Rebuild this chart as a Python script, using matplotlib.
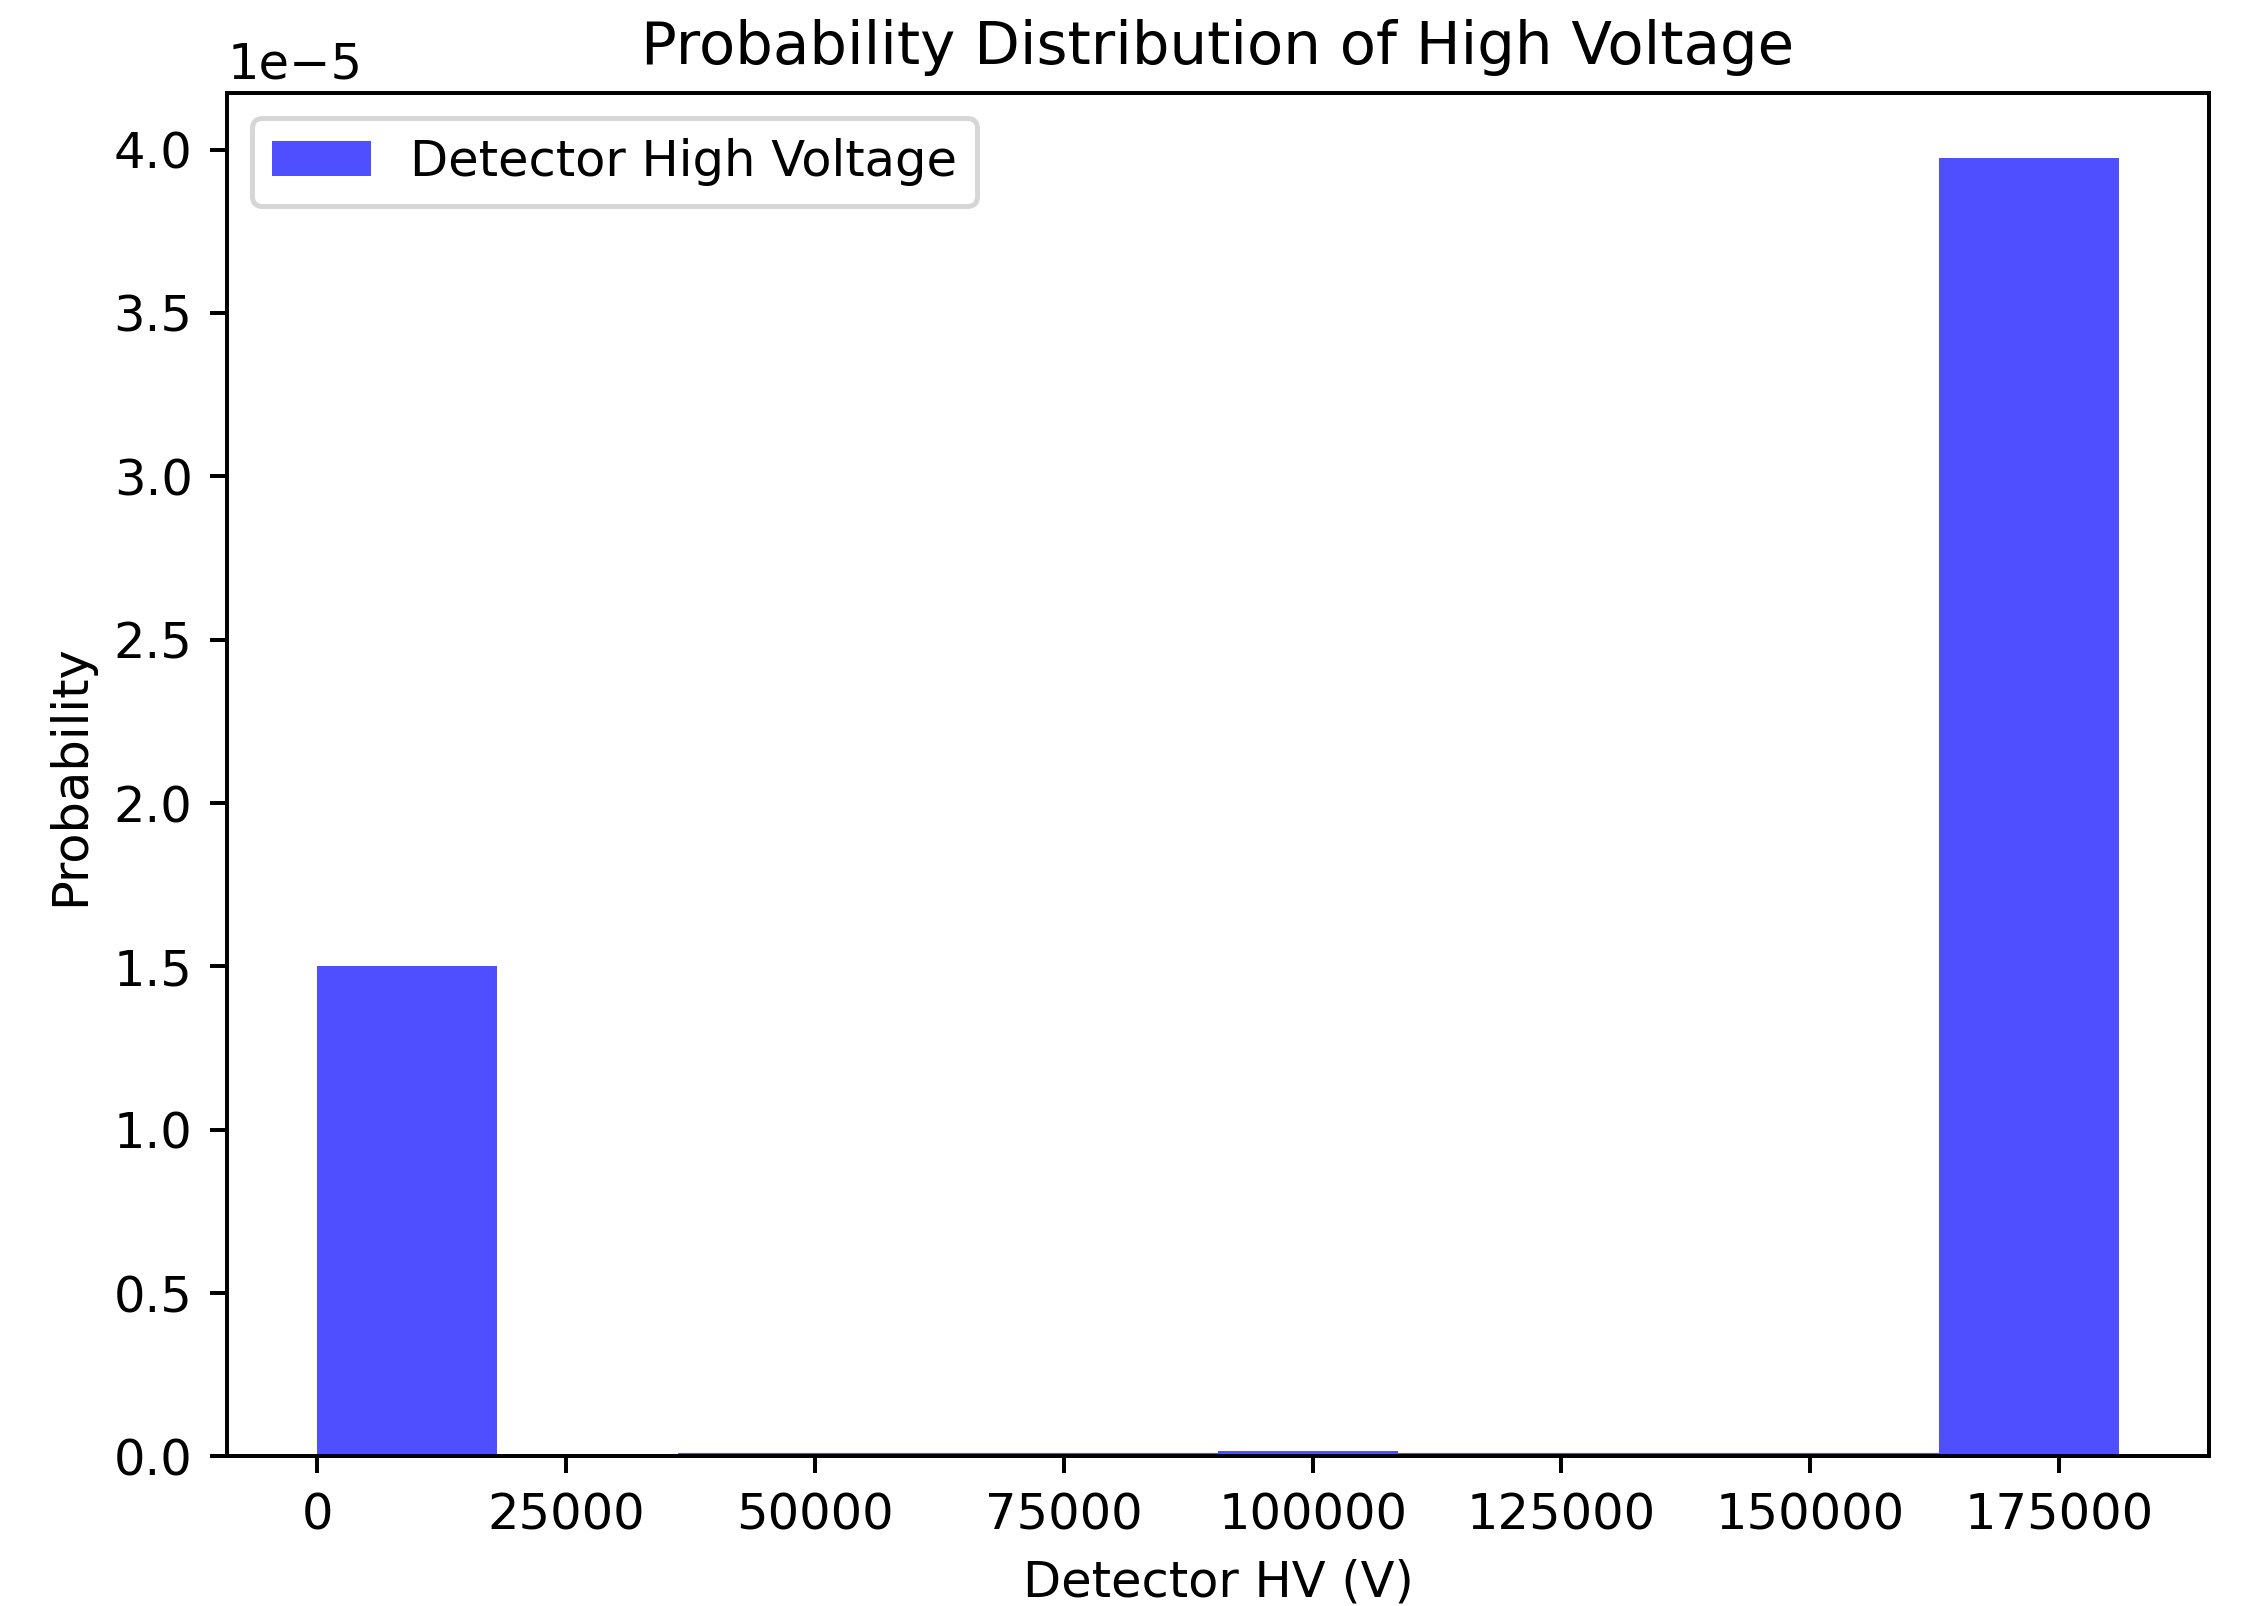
import numpy as np
import matplotlib
matplotlib.use("Agg")
import matplotlib.pyplot as plt

# Histogram of detector high voltage (density, 10 bins)
bin_edges = [0, 18100, 36200, 54300, 72400, 90500, 108600, 126700, 144800, 162900, 181000]
density = [1.500e-5, 0.0, 0.010e-5, 0.010e-5, 0.010e-5, 0.018e-5, 0.010e-5, 0.010e-5, 0.012e-5, 3.973e-5]

DPI = 356
fig, ax = plt.subplots(figsize=(2254 / DPI, 1606 / DPI), dpi=DPI)
fig.subplots_adjust(left=0.1008, right=0.980, top=0.9418, bottom=0.0931)

edges = np.array(bin_edges)
ax.bar(edges[:-1], density, width=np.diff(edges), align="edge",
       color="blue", alpha=0.69, label="Detector High Voltage")

ax.set_xlabel("Detector HV (V)")
ax.set_ylabel("Probability")
ax.set_title("Probability Distribution of High Voltage")
ax.legend(loc="upper left")

fig.savefig("out.png", dpi=DPI)
